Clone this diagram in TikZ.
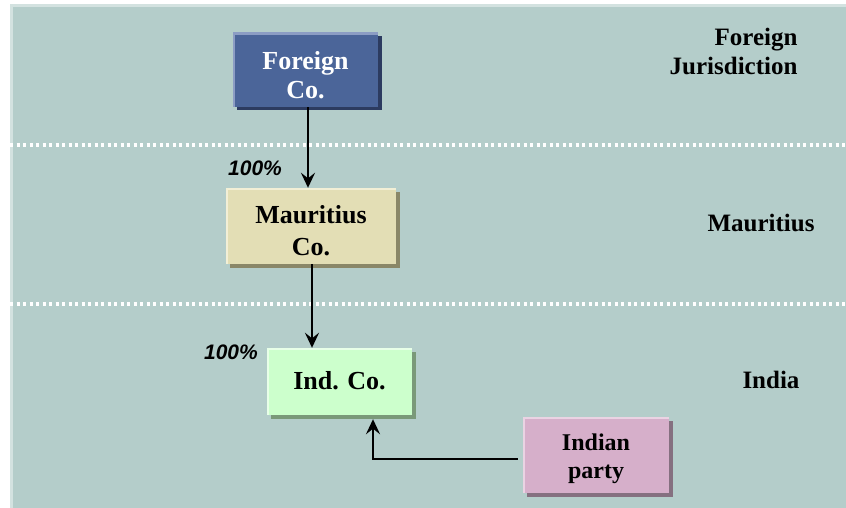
\documentclass[tikz,border=0pt]{standalone}
\usepackage{fontspec}
\setmainfont{Liberation Serif}
\setsansfont{Liberation Sans}
\usetikzlibrary{arrows.meta}
\definecolor{bgteal}{HTML}{B4CDCA}
\definecolor{bglight}{HTML}{D3E2E0}
\definecolor{fcfill}{HTML}{4B6599}
\definecolor{fcshad}{HTML}{2C3B60}
\definecolor{fclite}{HTML}{8C9DC4}
\definecolor{mcfill}{HTML}{E3DEB5}
\definecolor{mcshad}{HTML}{8A8768}
\definecolor{mclite}{HTML}{F2EFD6}
\definecolor{icfill}{HTML}{CCFFCC}
\definecolor{icshad}{HTML}{7A9979}
\definecolor{iclite}{HTML}{E8FFE8}
\definecolor{ipfill}{HTML}{D6AFCA}
\definecolor{ipshad}{HTML}{857080}
\definecolor{iplite}{HTML}{EAD3E3}
\tikzset{
  x=1pt, y=-1pt,
  entity/.style n args={3}{rectangle, inner sep=0pt, align=center,
    fill=#1,
    preaction={fill=#2, transform canvas={shift={(3.5pt,-3.5pt)}}},
    path picture={\draw[#3, line width=3.5pt]
      (path picture bounding box.south west) -- (path picture bounding box.north west)
      -- (path picture bounding box.north east);},
    font=\fontsize{26}{31}\selectfont\bfseries},
  pct/.style={font=\fontsize{21}{24}\selectfont\sffamily\bfseries\itshape},
  region/.style={font=\fontsize{25}{29}\selectfont\bfseries},
  arr/.style={line width=2.6pt, -{Stealth[length=15pt, width=14pt, inset=5.5pt]}},
  divider/.style={white, line width=3.2pt, dash pattern=on 3.2pt off 3.3pt}
}
\begin{document}
\begin{tikzpicture}
\useasboundingbox (0,0) rectangle (846,508);
\fill[white] (0,0) rectangle (846,508);
\fill[bgteal] (10,4) rectangle (846,508);
\fill[bglight] (10,4) rectangle (13,508);
\fill[bglight] (10,4) rectangle (846,7);
% dividers
\draw[divider] (10,145) -- (846,145);
\draw[divider] (10,304) -- (846,304);
% boxes
\node[entity={fcfill}{fcshad}{fclite}, text=white, minimum width=145pt, minimum height=74pt, font=\fontsize{26}{29}\selectfont\bfseries] (fc) at (305.5,70) {};
\node[text=white, font=\fontsize{26}{29}\selectfont\bfseries, align=center] (fct) at ([yshift=-5pt]fc.center) {Foreign\\Co.};
\node[entity={mcfill}{mcshad}{mclite}, minimum width=170pt, minimum height=76pt] (mc) at (311,226) {};
\node[font=\fontsize{26}{32}\selectfont\bfseries, align=center] (mct) at ([yshift=-5pt]mc.center) {Mauritius\\Co.};
\node[entity={icfill}{icshad}{iclite}, minimum width=145pt, minimum height=67pt] (ic) at (339.5,381.5) {\raisebox{3pt}{Ind. Co.}};
\node[entity={ipfill}{ipshad}{iplite}, minimum width=146pt, minimum height=76pt] (ip) at (596,455) {};
\node[font=\fontsize{24}{28}\selectfont\bfseries, align=center] (ipt) at ([yshift=-4pt]ip.center) {Indian\\party};
% labels
\node[pct] (p1) at (255,168) {100\%};
\node[pct] (p2) at (231,352) {100\%};
\node[region, align=right, anchor=east] (rfj) at (801,51) {Foreign\\Jurisdiction};
\node[region] (rmu) at (761,223) {Mauritius};
\node[region] (rin) at (771,380) {India};
% connectors
\draw[arr] ([xshift=2.5pt]fc.south) -- ([xshift=2.5pt]fc.south |- mc.north);
\draw[arr] ([xshift=1pt]mc.south) -- ([xshift=1pt]mc.south |- ic.north);
\draw[arr] ([xshift=-5pt,yshift=-4pt]ip.west) -| ([xshift=33.5pt,yshift=-4pt]ic.south);
\end{tikzpicture}
\end{document}
